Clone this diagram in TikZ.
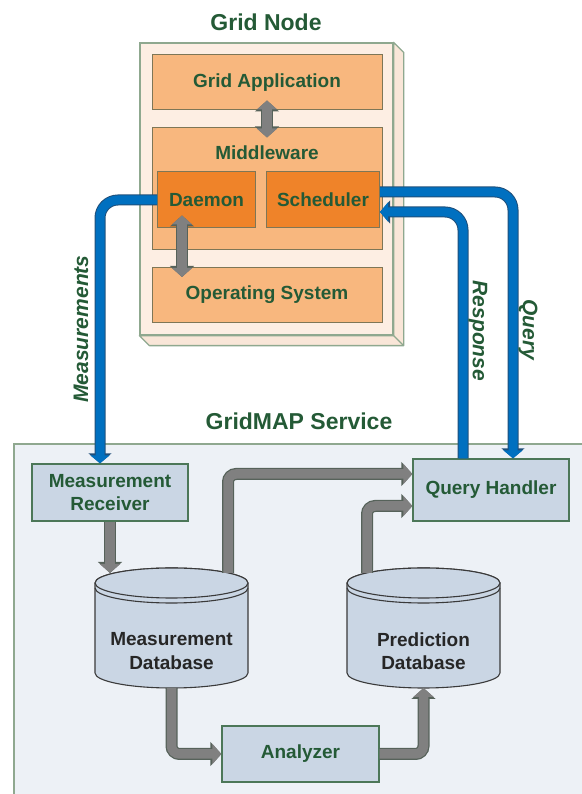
\documentclass[tikz,border=0pt]{standalone}
\usepackage{fontspec}
\setmainfont{Liberation Sans}
\usepackage{xcolor}
\usetikzlibrary{arrows.meta,positioning}

\definecolor{txtgreen}{HTML}{245A36}
\definecolor{slabfill}{HTML}{FDEEE3}
\definecolor{slabside}{HTML}{F9E6D8}
\definecolor{slabedge}{HTML}{8FA88F}
\definecolor{lightorange}{HTML}{F8B77E}
\definecolor{deeporange}{HTML}{EF8329}
\definecolor{orangeedge}{HTML}{7E7656}
\definecolor{svcfill}{HTML}{EDF1F6}
\definecolor{boxblue}{HTML}{CAD6E4}
\definecolor{boxedge}{HTML}{4C7758}
\definecolor{drumedge}{HTML}{3A3A3A}
\definecolor{pipegray}{HTML}{808080}
\definecolor{pipeedge}{HTML}{56625A}
\definecolor{flowblue}{HTML}{0070C0}
\definecolor{flowedge}{HTML}{1F4E79}

\tikzset{
  txt/.style={text=txtgreen, font=\bfseries\fontsize{19}{23.5}\selectfont},
  title/.style={text=txtgreen, font=\bfseries\fontsize{23}{27}\selectfont},
  flowlbl/.style={text=txtgreen, font=\bfseries\itshape\fontsize{21}{25}\selectfont},
  slabbox/.style={draw=slabedge, fill=slabfill, line width=1.3pt, minimum width=253pt, minimum height=292pt, inner sep=0pt},
  slabfold/.style={draw=slabedge, fill=slabside, line width=1.3pt, line join=round},
  layer/.style={draw=orangeedge, fill=lightorange, line width=1pt, minimum width=230pt, inner sep=0pt, txt},
  part/.style={draw=orangeedge, fill=deeporange, line width=1pt, minimum height=56pt, inner sep=0pt, txt},
  svcbox/.style={draw=boxedge, fill=boxblue, line width=1.3pt, minimum width=156pt, inner sep=0pt, align=center, txt},
  drum/.style={draw=drumedge, fill=boxblue, line width=1.1pt},
  dbtxt/.style={align=center, text=black!85, font=\bfseries\fontsize{19}{23.5}\selectfont},
  pipe/.style={draw=pipegray, line width=9.5pt, rounded corners=8pt, -{Triangle[width=20pt,length=9pt]},
    preaction={draw=pipeedge, line width=12pt, -{Triangle[width=23.5pt,length=11pt]}}},
  dblpipe/.style={draw=pipegray, line width=9.5pt, {Triangle[width=20pt,length=9pt]}-{Triangle[width=20pt,length=9pt]},
    preaction={draw=pipeedge, line width=12pt, {Triangle[width=23.5pt,length=11pt]}-{Triangle[width=23.5pt,length=11pt]}}},
  flow/.style={draw=flowblue, line width=9pt, rounded corners=18pt, -{Triangle[width=19pt,length=8pt]},
    preaction={draw=flowedge, line width=11pt, -{Triangle[width=22.5pt,length=10pt]}}}
}

\begin{document}
\begin{tikzpicture}[x=1pt,y=1pt]
\useasboundingbox (0,0) rectangle (581,794);

% grid node
\node[title] (gntitle) at (266,772) {Grid Node};
\node[slabbox] (slab) at (266.5,605) {};
\draw[slabfold] (slab.north east) -- ++(10,-10) -- ([shift={(10,-10)}]slab.south east)
  -- ([shift={(10,-10)}]slab.south west) -- (slab.south west) -- (slab.south east) -- cycle;
\draw[slabfold] (slab.south east) -- ++(10,-10);
\node[layer, minimum height=55pt] (gapp) at (267,711.5) {Grid Application};
\node[layer, minimum height=122pt] (mid) at (267,605) {};
\node[txt] (midlbl) at (267,641) {Middleware};
\node[part, minimum width=98pt] (dae) at (206.5,594) {Daemon};
\node[part, minimum width=113pt] (sch) at (323,594) {Scheduler};
\node[layer, minimum height=55pt] (os) at (267,499) {Operating System};
\draw[dblpipe] ([yshift=10pt]gapp.south) -- ([yshift=-10pt]mid.north);
\draw[dblpipe] ([xshift=-24.5pt,yshift=13pt]dae.south) -- ([xshift=-85pt,yshift=-10pt]os.north);

% gridmap service
\node[title] (svctitle) at (299,373) {GridMAP Service};
\draw[draw=slabedge, fill=svcfill, line width=1.3pt] (14,350) rectangle (620,-20);
\node[svcbox, minimum height=57pt] (mr) at (110,301.5) {Measurement\\Receiver};
\node[svcbox, minimum height=62pt] (qh) at (491,304) {Query Handler};
\node[svcbox, minimum height=56pt, minimum width=157pt] (ana) at (300.5,40) {Analyzer};

\foreach \cx/\nm/\dbname in {171.5/mdb/Measurement, 423.5/pdb/Prediction}{
  \draw[drum] (\cx-76.5,211) -- (\cx-76.5,121) arc[start angle=180,end angle=360,x radius=76.5,y radius=15]
    -- (\cx+76.5,211) arc[start angle=0,end angle=180,x radius=76.5,y radius=15] -- cycle;
  \draw[drum] (\cx,211) ellipse[x radius=76.5,y radius=15];
  \draw[drumedge, line width=1.1pt] (\cx-76.5,206) arc[start angle=180,end angle=360,x radius=76.5,y radius=15];
  \node[dbtxt] (\nm) at (\cx,143) {\dbname\\Database};
  \coordinate (\nm-top) at (\cx,221);
  \coordinate (\nm-bot) at (\cx,106);
}

\draw[pipe] (mr.south) -- (mr.south |- mdb-top);
\draw[pipe] ([xshift=56.5pt]mdb-top) |- ([yshift=16pt]qh.west);
\draw[pipe] ([xshift=-56.5pt]pdb-top) |- ([yshift=-16pt]qh.west);
\draw[pipe] (mdb-bot) |- (ana.west);
\draw[pipe] (ana.east) -| (pdb-bot);

% measurement and query flows
\draw[flow] (dae.west) -| ([xshift=-10pt]mr.north);
\draw[flow] ([yshift=8pt]sch.east) -| ([xshift=22pt]qh.north);
\draw[flow] ([xshift=-28pt]qh.north) |- ([yshift=-12pt]sch.east);
\node[flowlbl, rotate=90] (measlbl) at (81,465) {Measurements};
\node[flowlbl, rotate=-90] (resplbl) at (478,463) {Response};
\node[flowlbl, rotate=-90] (querylbl) at (528,464) {Query};
\end{tikzpicture}
\end{document}
